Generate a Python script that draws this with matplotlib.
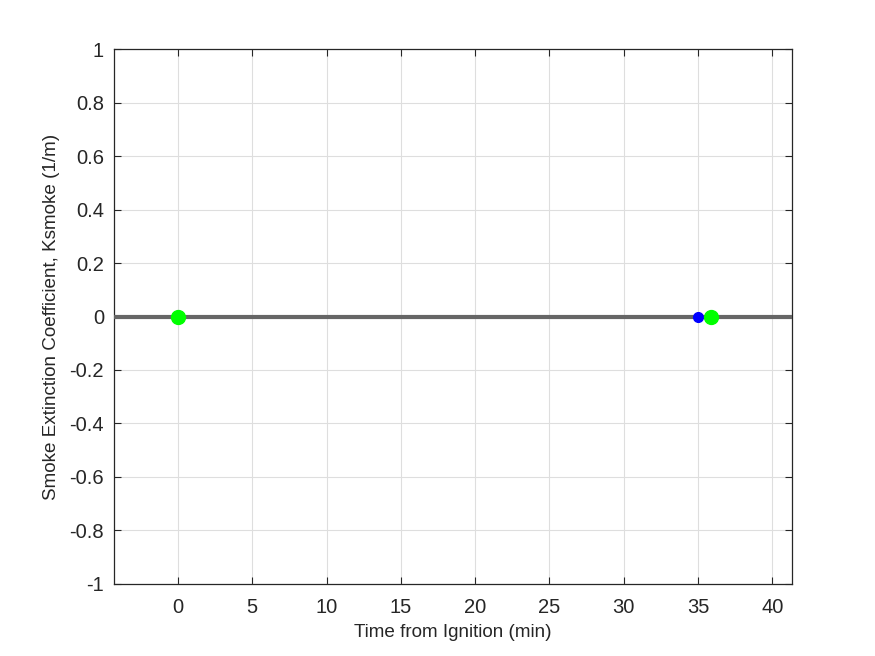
import matplotlib
matplotlib.use("Agg")
import matplotlib.pyplot as plt
from matplotlib.ticker import FuncFormatter

# Data
line_time = [-4.32, 41.31]
line_k = [0.0, 0.0]
green_time = [0.0, 35.87]
green_k = [0.0, 0.0]
blue_time = [35.0]
blue_k = [0.0]
xticks = [0, 5, 10, 15, 20, 25, 30, 35, 40]
yticks = [-1, -0.8, -0.6, -0.4, -0.2, 0, 0.2, 0.4, 0.6, 0.8, 1]

plt.rcParams['font.family'] = ['Liberation Sans', 'DejaVu Sans']
fig = plt.figure(figsize=(8.75, 6.56), dpi=100)
ax = fig.add_axes([0.13, 0.11, 0.775, 0.815])

ax.plot(line_time, line_k, color=(0.4, 0.4, 0.4), lw=3, solid_capstyle='round', zorder=3)
ax.plot(blue_time, blue_k, 'o', color='blue', ms=7, mec='blue', zorder=4)
ax.plot(green_time, green_k, 'o', color=(0, 1, 0), ms=10, mec=(0, 1, 0), zorder=5)

ax.set_xlim(line_time[0], line_time[1])
ax.set_ylim(-1, 1)
ax.set_xticks(xticks)
ax.set_yticks(yticks)
fmt = FuncFormatter(lambda v, p: ('%g' % v).replace('\u2212', '-'))
ax.xaxis.set_major_formatter(fmt)
ax.yaxis.set_major_formatter(fmt)

dark = (0.15, 0.15, 0.15)
ax.grid(True, color=(0.87, 0.87, 0.87), lw=0.8)
ax.set_axisbelow(True)
for s in ax.spines.values():
    s.set_color(dark)
    s.set_linewidth(0.9)
ax.tick_params(direction='in', top=True, right=True, length=5, width=0.8,
               colors=dark, labelsize=14.5)
ax.tick_params(axis='x', pad=10)
ax.tick_params(axis='y', pad=7)
ax.set_xlabel('Time from Ignition (min)', fontsize=13.6, color=dark, labelpad=5)
ax.set_ylabel('Smoke Extinction Coefficient, Ksmoke (1/m)', fontsize=13.6, color=dark, labelpad=7)

fig.savefig('out.png', dpi=100)
